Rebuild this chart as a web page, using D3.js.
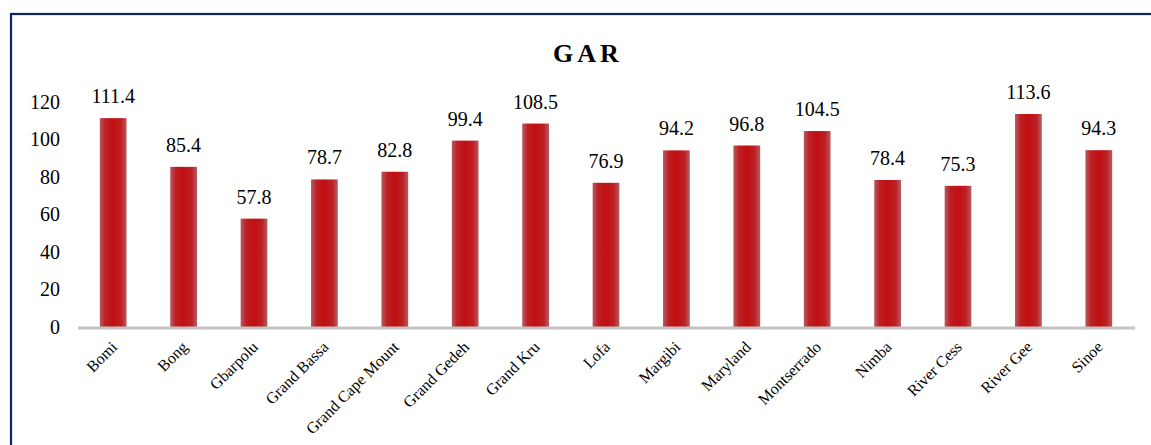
<!DOCTYPE html>
<html>
<head>
<meta charset="utf-8">
<script src="https://cdn.jsdelivr.net/npm/d3@7"></script>
<style>
  body { margin: 0; background: #fff; }
  svg text { font-family: "Liberation Serif", "Times New Roman", serif; fill: #000; }
</style>
</head>
<body>
<div id="chart"></div>
<script>
// county names and GAR values
var counties = ["Bomi", "Bong", "Gbarpolu", "Grand Bassa", "Grand Cape Mount", "Grand Gedeh",
  "Grand Kru", "Lofa", "Margibi", "Maryland", "Montserrado", "Nimba", "River Cess", "River Gee", "Sinoe"];
var garValues = [111.4, 85.4, 57.8, 78.7, 82.8, 99.4, 108.5, 76.9, 94.2, 96.8, 104.5, 78.4, 75.3, 113.6, 94.3];
var yTicks = [0, 20, 40, 60, 80, 100, 120];

var width = 1151, height = 445;

var svg = d3.select("#chart").append("svg")
    .attr("width", width)
    .attr("height", height);

// bar gradient (darker soft edges)
var defs = svg.append("defs");
var grad = defs.append("linearGradient")
    .attr("id", "barGrad")
    .attr("x1", "0%").attr("x2", "100%")
    .attr("y1", "0%").attr("y2", "0%");
grad.append("stop").attr("offset", "0%").attr("stop-color", "#b65d60");
grad.append("stop").attr("offset", "20%").attr("stop-color", "#bd2024");
grad.append("stop").attr("offset", "50%").attr("stop-color", "#c00f12");
grad.append("stop").attr("offset", "80%").attr("stop-color", "#bd2024");
grad.append("stop").attr("offset", "100%").attr("stop-color", "#b65d60");

// frame
svg.append("rect")
    .attr("x", 11)
    .attr("y", 14)
    .attr("width", 1160)
    .attr("height", 460)
    .attr("fill", "none")
    .attr("stroke", "#0b2462")
    .attr("stroke-width", 2.2);

// scales
var x = d3.scaleBand()
    .domain(counties)
    .range([78, 1134])
    .paddingInner(0.62)
    .paddingOuter(0.31);
var y = d3.scaleLinear()
    .domain([0, 120])
    .range([327, 102]);

// title
svg.append("text")
    .attr("x", 588)
    .attr("y", 62)
    .attr("text-anchor", "middle")
    .style("font-size", "26px")
    .style("font-weight", "bold")
    .style("letter-spacing", "4px")
    .text("GAR");

// y axis labels (no line)
var yAxis = svg.append("g")
    .attr("transform", "translate(60,0)")
    .call(d3.axisLeft(y).tickValues(yTicks).tickSize(0).tickPadding(0));
yAxis.attr("font-family", null).attr("font-size", null);
yAxis.select(".domain").remove();
yAxis.selectAll("text")
    .style("font-family", "'Liberation Serif', serif")
    .style("font-size", "20px");

// bars
svg.selectAll(".bar")
    .data(garValues)
  .enter().append("rect")
    .attr("class", "bar")
    .attr("x", function(d, i) { return x(counties[i]); })
    .attr("width", x.bandwidth())
    .attr("y", function(d) { return y(d); })
    .attr("height", function(d) { return y(0) - y(d); })
    .style("fill", "url(#barGrad)");

// value labels
svg.selectAll(".val")
    .data(garValues)
  .enter().append("text")
    .attr("class", "val")
    .attr("x", function(d, i) { return x(counties[i]) + x.bandwidth() / 2; })
    .attr("y", function(d) { return y(d) - 15; })
    .attr("text-anchor", "middle")
    .style("font-family", "'Liberation Serif', serif")
    .style("font-size", "20px")
    .text(function(d) { return d.toFixed(1); });

// x axis line
svg.append("line")
    .attr("x1", 78)
    .attr("x2", 1135)
    .attr("y1", y(0) + 1)
    .attr("y2", y(0) + 1)
    .attr("stroke", "#c4c4c4")
    .attr("stroke-width", 3);

// x labels rotated
svg.selectAll(".xlab")
    .data(counties)
  .enter().append("text")
    .attr("class", "xlab")
    .attr("transform", function(d) {
      return "translate(" + (x(d) + x.bandwidth() / 2 + 5) + "," + 348 + ") rotate(-45)";
    })
    .attr("text-anchor", "end")
    .style("font-family", "'Liberation Serif', serif")
    .style("font-size", "16px")
    .text(function(d) { return d; });
</script>
</body>
</html>
